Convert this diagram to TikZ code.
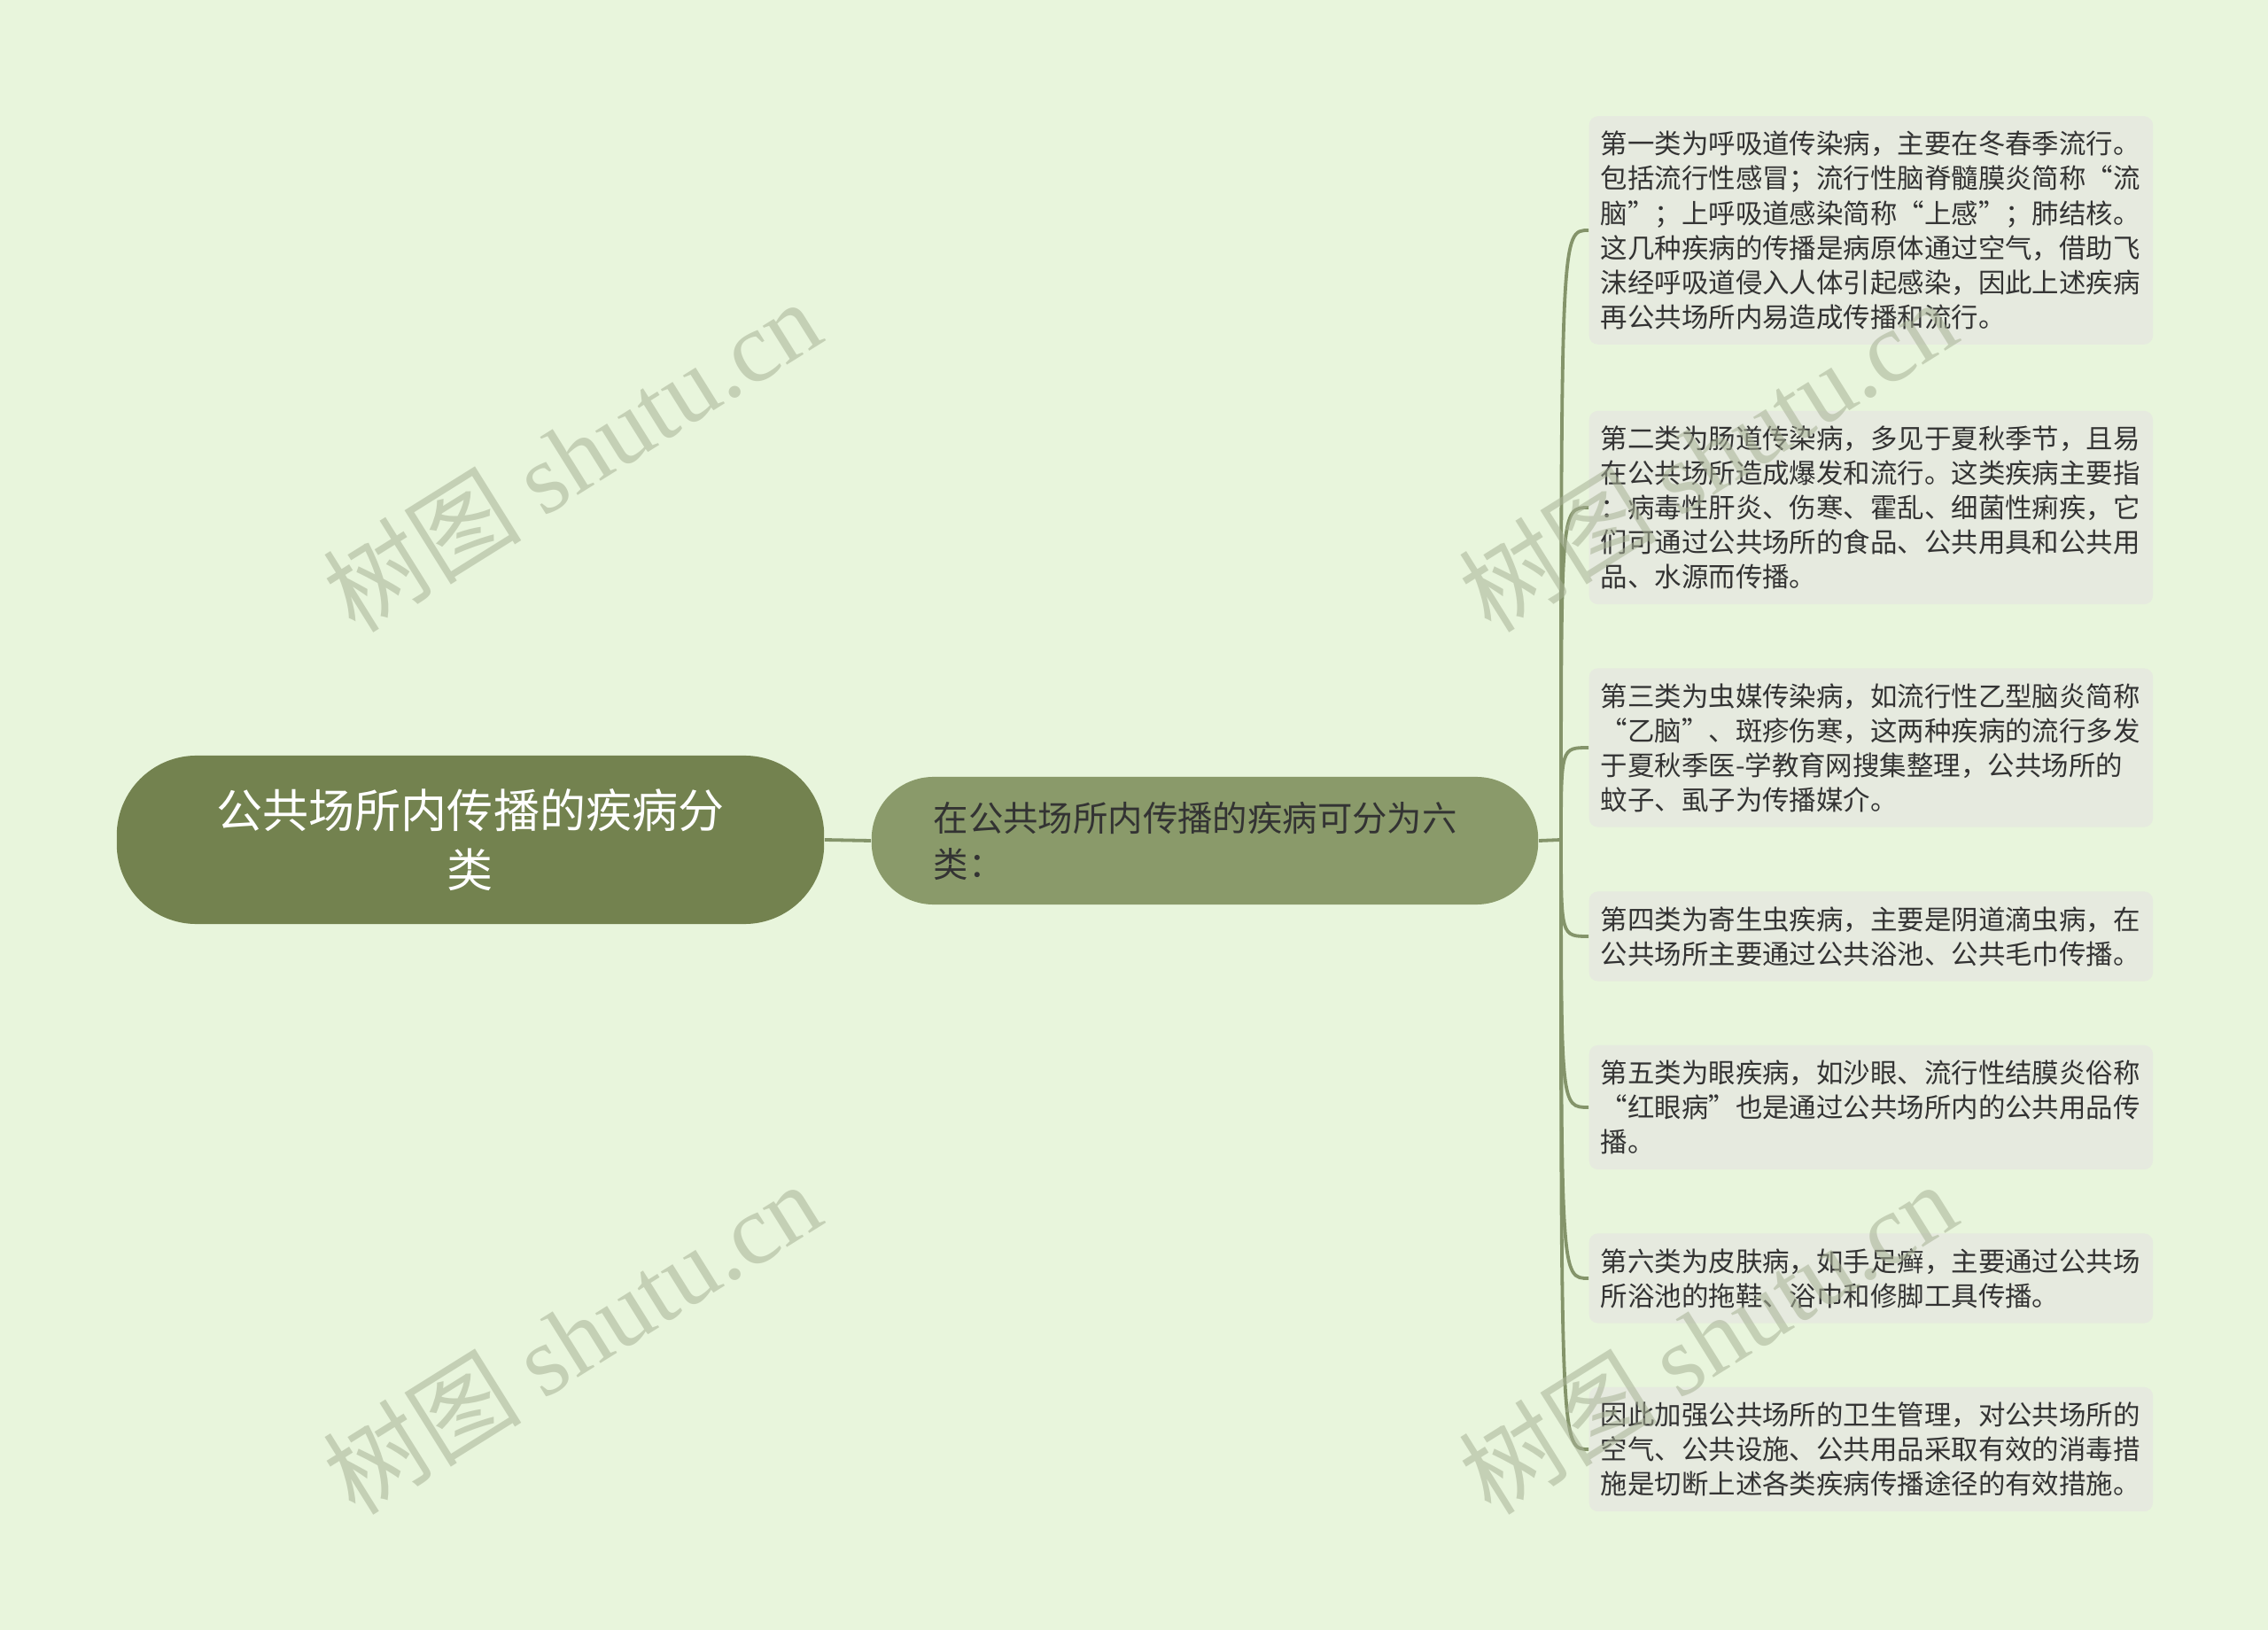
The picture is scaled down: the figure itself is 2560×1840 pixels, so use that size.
\documentclass[tikz,border=0pt]{standalone}
\usepackage{fontspec}
\newfontfamily\cjk{Noto Sans CJK SC}
\newfontfamily\wmlatin{Liberation Serif}
\usetikzlibrary{positioning}
\usepackage{xcolor}
\definecolor{stbg}{HTML}{E8F5DC}
\definecolor{stroot}{HTML}{73824F}
\definecolor{sttopic}{HTML}{8A9A6A}
\definecolor{stleaf}{HTML}{E6EADF}
\definecolor{stline}{HTML}{84946A}
\definecolor{sttext}{HTML}{333333}
\definecolor{stmark}{HTML}{A8B296}

\begin{document}
\begin{tikzpicture}[
    x=0.01cm, y=-0.01cm,
    root/.style={
        rectangle,
        rounded corners=0.9cm,
        minimum width=7.98cm,
        minimum height=1.9cm,
        fill=stroot,
        text=white,
        font={\cjk\fontsize{14.8pt}{19pt}\selectfont},
        align=center
    },
    topic/.style={
        rectangle,
        rounded corners=0.7cm,
        minimum height=1.44cm,
        text width=6.12cm,
        inner xsep=0.7cm,
        fill=sttopic,
        text=sttext,
        font={\cjk\fontsize{11.2pt}{14.8pt}\selectfont},
        align=left
    },
    leaf/.style={
        rectangle,
        rounded corners=0.1cm,
        anchor=west,
        text width=6.1cm,
        inner xsep=0.13cm,
        inner ysep=0.17cm,
        fill=stleaf,
        text=sttext,
        font={\cjk\fontsize{8.66pt}{11.1pt}\selectfont},
        align=left
    },
    branch/.style={
        draw=stline,
        line width=0.38mm
    },
    watermark/.style={
        stmark,
        opacity=0.55,
        rotate=32,
        font={\cjk\fontsize{32pt}{32pt}\selectfont}
    }
]

% Background
\useasboundingbox (0,0) rectangle (2560,1840);
\fill[stbg] (0,0) rectangle (2560,1840);

% Central nodes
\node[root] (main) at (531,948) {公共场所内传播的疾病分\\类};
\node[topic] (topic) at (1360,949) {在公共场所内传播的疾病可分为六\\类：};
\coordinate (hub) at (1762,948);

% Leaf boxes
\node[leaf] (respiratory) at (1793,260) {第一类为呼吸道传染病，主要在冬春季流行。\\
包括流行性感冒；流行性脑脊髓膜炎简称“流\\
脑”；上呼吸道感染简称“上感”；肺结核。\\
这几种疾病的传播是病原体通过空气，借助飞\\
沫经呼吸道侵入人体引起感染，因此上述疾病\\
再公共场所内易造成传播和流行。};

\node[leaf] (intestinal) at (1793,573) {第二类为肠道传染病，多见于夏秋季节，且易\\
在公共场所造成爆发和流行。这类疾病主要指\\
：病毒性肝炎、伤寒、霍乱、细菌性痢疾，它\\
们可通过公共场所的食品、公共用具和公共用\\
品、水源而传播。};

\node[leaf] (insect) at (1793,844) {第三类为虫媒传染病，如流行性乙型脑炎简称\\
“乙脑”、斑疹伤寒，这两种疾病的流行多发\\
于夏秋季医-学教育网搜集整理，公共场所的\\
蚊子、虱子为传播媒介。};

\node[leaf] (parasite) at (1793,1057) {第四类为寄生虫疾病，主要是阴道滴虫病，在\\
公共场所主要通过公共浴池、公共毛巾传播。};

\node[leaf] (eye) at (1793,1250) {第五类为眼疾病，如沙眼、流行性结膜炎俗称\\
“红眼病”也是通过公共场所内的公共用品传\\
播。};

\node[leaf] (skin) at (1793,1443) {第六类为皮肤病，如手足癣，主要通过公共场\\
所浴池的拖鞋、浴巾和修脚工具传播。};

\node[leaf] (measures) at (1793,1636) {因此加强公共场所的卫生管理，对公共场所的\\
空气、公共设施、公共用品采取有效的消毒措\\
施是切断上述各类疾病传播途径的有效措施。};

% Connectors
\draw[branch] (main.east) -- (topic.west);
\draw[branch] (topic.east) -- (hub);
\foreach \leafname in {respiratory, intestinal, insect, parasite, eye, skin, measures}
    \draw[branch] (hub) .. controls (hub |- \leafname.west) .. (\leafname.west);

% Watermarks
\node[watermark] (mark-a) at (645,514) {树图 {\wmlatin shutu.cn}};
\node[watermark] (mark-b) at (1927,514) {树图 {\wmlatin shutu.cn}};
\node[watermark] (mark-c) at (645,1510) {树图 {\wmlatin shutu.cn}};
\node[watermark] (mark-d) at (1927,1510) {树图 {\wmlatin shutu.cn}};

\end{tikzpicture}
\end{document}
